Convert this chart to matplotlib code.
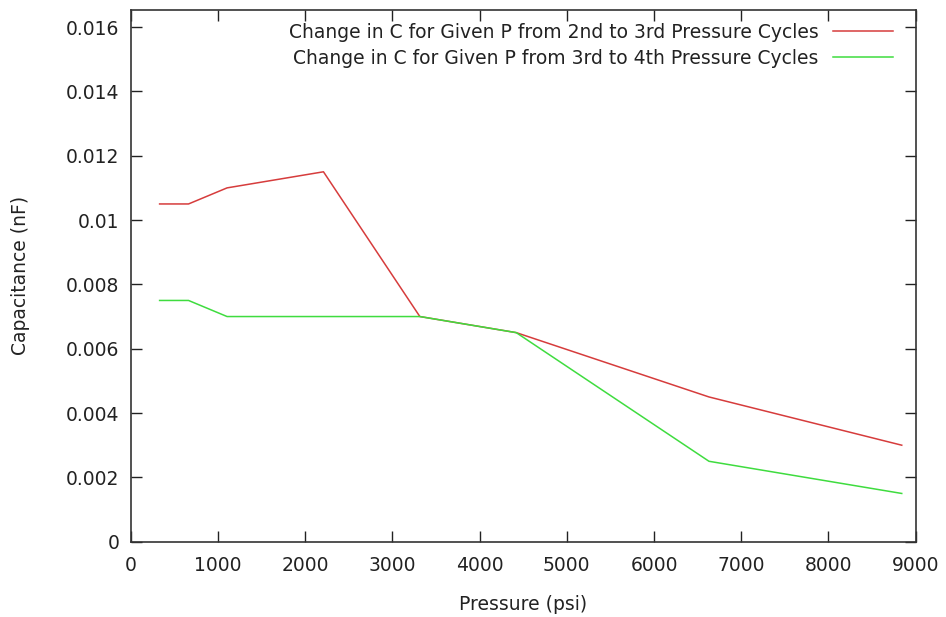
import matplotlib
matplotlib.use("Agg")
import matplotlib.pyplot as plt
from matplotlib.ticker import FuncFormatter

# Pressure points (psi) and change in capacitance (nF)
pressure = [331.5, 663, 1105, 2210, 3315, 4420, 6630, 8840]
dc_2to3 = [0.0105, 0.0105, 0.011, 0.0115, 0.007, 0.0065, 0.0045, 0.003]
dc_3to4 = [0.0075, 0.0075, 0.007, 0.007, 0.007, 0.0065, 0.0025, 0.0015]

label_2to3 = "Change in C for Given P from 2nd to 3rd Pressure Cycles"
label_3to4 = "Change in C for Given P from 3rd to 4th Pressure Cycles"

fs = 13.5
plt.rcParams['font.family'] = ['DejaVu Sans']
plt.rcParams['font.size'] = fs

fig = plt.figure(figsize=(9.46, 6.17), dpi=100)
ax = fig.add_axes([130.7 / 946, 1 - 541.7 / 617, (915.7 - 130.7) / 946, (541.7 - 10) / 617])

ax.plot(pressure, dc_2to3, color='#d63c3c', lw=1.1, label=label_2to3)
ax.plot(pressure, dc_3to4, color='#3fdc3f', lw=1.1, label=label_3to4)

ax.set_xlim(0, 9000)
ax.set_ylim(0, 0.01653)
ax.set_xticks(range(0, 9001, 1000))
ax.set_yticks([i * 0.002 for i in range(9)])
ax.yaxis.set_major_formatter(FuncFormatter(lambda v, p: "%g" % round(v, 4)))

ax.tick_params(direction='in', length=8, width=1, top=True, right=True,
               labelsize=fs, colors='#222222', pad=8)
ax.tick_params(axis='x', pad=10)
for s in ax.spines.values():
    s.set_linewidth(1.2)
    s.set_color('#333333')

ax.set_xlabel("Pressure (psi)", fontsize=fs, labelpad=15, color='#222222')
ax.set_ylabel("Capacitance (nF)", fontsize=fs, labelpad=26, color='#222222')

ax.legend(loc='upper right', bbox_to_anchor=(0.971, 0.976), frameon=False,
          markerfirst=False, handlelength=3.2, handletextpad=0.75,
          borderpad=0, borderaxespad=0, labelspacing=0.37, fontsize=fs,
          labelcolor='#222222')

fig.savefig("out.png", dpi=100)
